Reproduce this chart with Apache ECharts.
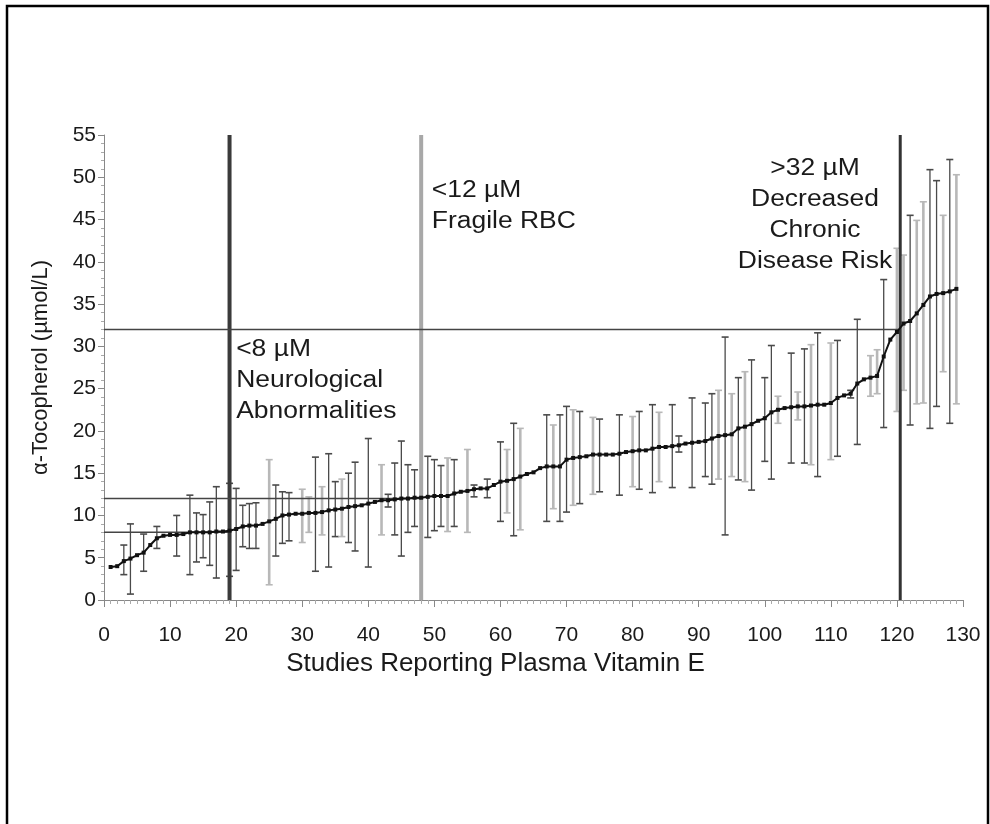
<!DOCTYPE html>
<html><head><meta charset="utf-8">
<script src="https://cdn.jsdelivr.net/npm/echarts@6/dist/echarts.min.js"></script>
<style>html,body{margin:0;padding:0;background:#fff}#c{width:990px;height:824px}</style>
</head><body><div id="c"></div>
<script>
// Mean plasma alpha-tocopherol for each study (studies ranked 1..129)
const meanValues = [
  3.9, 4.0, 4.6, 4.9, 5.3, 5.6, 6.5, 7.3, 7.6, 7.7,
  7.7, 7.8, 8.0, 8.0, 8.0, 8.0, 8.1, 8.1, 8.2, 8.4,
  8.7, 8.8, 8.8, 9.0, 9.3, 9.6, 10.0, 10.1, 10.2, 10.2,
  10.3, 10.3, 10.4, 10.6, 10.7, 10.8, 11.0, 11.1, 11.2, 11.4,
  11.6, 11.8, 11.8, 11.9, 12.0, 12.0, 12.1, 12.1, 12.2, 12.3,
  12.3, 12.3, 12.6, 12.8, 12.9, 13.1, 13.2, 13.2, 13.6, 14.0,
  14.1, 14.3, 14.6, 14.9, 15.1, 15.6, 15.8, 15.8, 15.8, 16.6,
  16.8, 16.9, 17.0, 17.2, 17.2, 17.2, 17.2, 17.3, 17.5, 17.6,
  17.7, 17.7, 17.9, 18.1, 18.1, 18.2, 18.3, 18.5, 18.6, 18.7,
  18.8, 19.1, 19.4, 19.5, 19.6, 20.3, 20.5, 20.8, 21.2, 21.5,
  22.2, 22.5, 22.7, 22.8, 22.9, 22.9, 23.0, 23.1, 23.1, 23.3,
  23.9, 24.2, 24.4, 25.6, 26.1, 26.3, 26.5, 28.8, 30.8, 31.7,
  32.7, 33.0, 33.9, 34.9, 35.9, 36.2, 36.3, 36.5, 36.8
];

// Studies that report a spread, with the lower and upper ends of the error bar
const errStudies = [3,4,6,8,11,13,14,15,16,17,19,20,21,22,23,25,26,27,28,30,
  31,32,33,34,35,36,37,38,40,42,43,44,45,46,47,49,50,51,52,53,
  55,56,58,60,61,62,63,67,68,69,70,71,72,74,75,78,80,81,83,84,
  86,87,89,91,92,93,94,95,96,97,98,100,101,102,104,105,106,107,108,110,
  111,113,114,116,117,118,120,121,122,123,124,125,126,127,128,129];
const errLow = [3.0,0.7,3.4,6.1,5.2,3.0,4.5,5.0,4.1,2.6,2.8,3.5,6.3,6.1,6.1,1.8,5.2,6.7,7.0,6.8,
  8.0,3.4,7.7,3.9,7.5,7.5,6.8,5.8,3.9,7.7,11.0,7.7,5.2,8.0,8.7,7.4,8.2,8.7,8.1,8.7,
  8.0,12.2,12.1,9.3,10.3,7.6,8.3,9.3,10.8,9.3,10.4,11.2,11.4,12.5,12.8,12.4,13.4,13.1,12.7,14.0,
  13.3,17.5,13.3,14.6,13.7,14.3,7.7,14.6,14.2,14.0,13.0,16.4,14.3,20.9,16.2,21.3,16.2,16.0,14.6,16.6,
  17.0,23.9,18.4,24.1,24.4,20.4,22.3,24.8,20.7,23.2,23.3,20.3,22.9,27.0,20.9,23.2];
const errHigh = [6.5,9.0,7.8,8.7,10.0,12.4,10.3,10.1,11.6,13.4,13.8,13.2,11.2,11.4,11.5,16.6,13.6,12.8,12.7,13.1,
  12.2,16.9,13.4,17.3,14.0,14.3,15.0,16.3,19.1,16.0,12.5,16.2,18.8,16.0,15.4,17.0,16.6,15.9,16.8,16.6,
  17.8,13.6,14.3,18.7,17.8,20.9,20.3,21.9,20.7,21.9,22.9,22.5,22.3,21.6,21.4,21.9,21.7,22.3,23.1,22.2,
  23.1,19.4,23.9,23.3,24.4,24.8,31.1,24.4,26.3,27.0,28.4,26.3,30.1,24.1,29.2,24.6,29.7,30.2,31.6,30.4,
  30.7,24.8,33.2,28.9,29.6,37.9,41.6,40.8,45.5,44.9,47.1,50.9,49.6,45.5,52.1,50.3];
// Studies whose error bars are drawn in the lighter grey
const lightBarStudies = [25,30,31,33,36,42,52,55,61,63,68,71,74,80,84,93,95,97,102,105,
  107,110,116,117,120,121,123,124,127,129];

// Threshold levels (µmol/L) and the study rank where each is crossed
const thresholdLevels = [8, 12, 32];
const thresholdStudies = [19, 48, 120.5];
const thresholdLabels = [
  '<8 \u00b5M\nNeurological\nAbnormalities',
  '<12 \u00b5M\nFragile RBC',
  '>32 \u00b5M\nDecreased\nChronic\nDisease Risk'
];

const xTicks = {min: 0, max: 130, interval: 10};
const yTicks = {min: 0, max: 55, interval: 5};

const FONT = '"Liberation Sans", Arial, Helvetica, sans-serif';
const chart = echarts.init(document.getElementById('c'), null, {renderer: 'canvas'});

const lightSet = new Set(lightBarStudies);
const errData = errStudies.map((s, i) => [s, errLow[i], errHigh[i], lightSet.has(s) ? 1 : 0]);
const meanData = meanValues.map((v, i) => [i + 1, v]);

const refStyles = [
  {color: '#3a3a3a', width: 4},
  {color: '#a8a8a8', width: 4},
  {color: '#333333', width: 3}
];
const refSeries = [];
thresholdStudies.forEach((s, k) => {
  refSeries.push({
    type: 'line', silent: true, symbol: 'none', z: 3, animation: false,
    data: [[s, yTicks.min], [s, yTicks.max]],
    lineStyle: {color: refStyles[k].color, width: refStyles[k].width}
  });
  refSeries.push({
    type: 'line', silent: true, symbol: 'none', z: 3, animation: false,
    data: [[xTicks.min, thresholdLevels[k]], [s, thresholdLevels[k]]],
    lineStyle: {color: '#444', width: 1.5}
  });
});

const option = {
  backgroundColor: '#fff',
  animation: false,
  grid: {left: 104, right: 27, top: 135, bottom: 224, containLabel: false},
  xAxis: {
    type: 'value', min: xTicks.min, max: xTicks.max, interval: xTicks.interval,
    name: 'Studies Reporting Plasma Vitamin E', nameLocation: 'middle', nameGap: 47,
    nameTextStyle: {fontFamily: FONT, fontSize: 26, color: '#1a1a1a', padding: [0, 76, 0, 0]},
    axisLine: {show: true, onZero: false, lineStyle: {color: '#888', width: 1}},
    axisTick: {show: true, length: 7, lineStyle: {color: '#888'}},
    minorTick: {show: true, splitNumber: 10, length: 4, lineStyle: {color: '#aaa'}},
    splitLine: {show: false},
    axisLabel: {margin: 25, fontFamily: FONT, fontSize: 21, color: '#1a1a1a'}
  },
  yAxis: {
    type: 'value', min: yTicks.min, max: yTicks.max, interval: yTicks.interval,
    name: '\u03b1-Tocopherol (\u00b5mol/L)', nameLocation: 'middle', nameGap: 52,
    nameTextStyle: {fontFamily: FONT, fontSize: 22, color: '#1a1a1a'},
    axisLine: {show: true, lineStyle: {color: '#888', width: 1}},
    axisTick: {show: true, length: 6, lineStyle: {color: '#888'}},
    minorTick: {show: true, splitNumber: 5, length: 3, lineStyle: {color: '#aaa'}},
    splitLine: {show: false},
    axisLabel: {margin: 8, fontFamily: FONT, fontSize: 21, color: '#1a1a1a'}
  },
  series: [
    {
      type: 'custom', z: 2, silent: true,
      data: errData,
      renderItem: function (params, api) {
        const x = api.value(0);
        const lo = api.coord([x, api.value(1)]);
        const hi = api.coord([x, api.value(2)]);
        const light = api.value(3) === 1;
        const style = light ? {stroke: '#b8b8b8', lineWidth: 2.6} : {stroke: '#4a4a4a', lineWidth: 1.3};
        const cap = 3.5;
        return {
          type: 'group',
          children: [
            {type: 'line', shape: {x1: lo[0], y1: lo[1], x2: hi[0], y2: hi[1]}, style: style},
            {type: 'line', shape: {x1: lo[0] - cap, y1: lo[1], x2: lo[0] + cap, y2: lo[1]}, style: {stroke: style.stroke, lineWidth: 1.6}},
            {type: 'line', shape: {x1: hi[0] - cap, y1: hi[1], x2: hi[0] + cap, y2: hi[1]}, style: {stroke: style.stroke, lineWidth: 1.6}}
          ]
        };
      }
    },
    ...refSeries,
    {
      type: 'line', z: 5, silent: true,
      data: meanData,
      symbol: 'rect', symbolSize: 4,
      itemStyle: {color: '#111'},
      lineStyle: {color: '#111', width: 2}
    }
  ]
};
chart.setOption(option);

// Annotations anchored in data coordinates
const anchors = [
  {pos: [20.0, 31.4], align: 'left'},
  {pos: [49.6, 50.3], align: 'left'},
  {pos: [107.6, 52.9], align: 'center'}
];
const graphics = anchors.map((a, k) => {
  const p = chart.convertToPixel({gridIndex: 0}, a.pos);
  return {
    type: 'text', x: p[0], y: p[1], scaleX: 1.15, silent: true, z: 10,
    style: {
      text: thresholdLabels[k], fill: '#1a1a1a', font: '23px ' + FONT,
      lineHeight: 31, align: a.align, verticalAlign: 'top'
    }
  };
});
graphics.push({
  type: 'rect', silent: true, z: 20,
  shape: {x: 7, y: 6, width: 981, height: 840},
  style: {fill: 'none', stroke: '#000', lineWidth: 2.5}
});
chart.setOption({graphic: graphics});
</script>
</body></html>
